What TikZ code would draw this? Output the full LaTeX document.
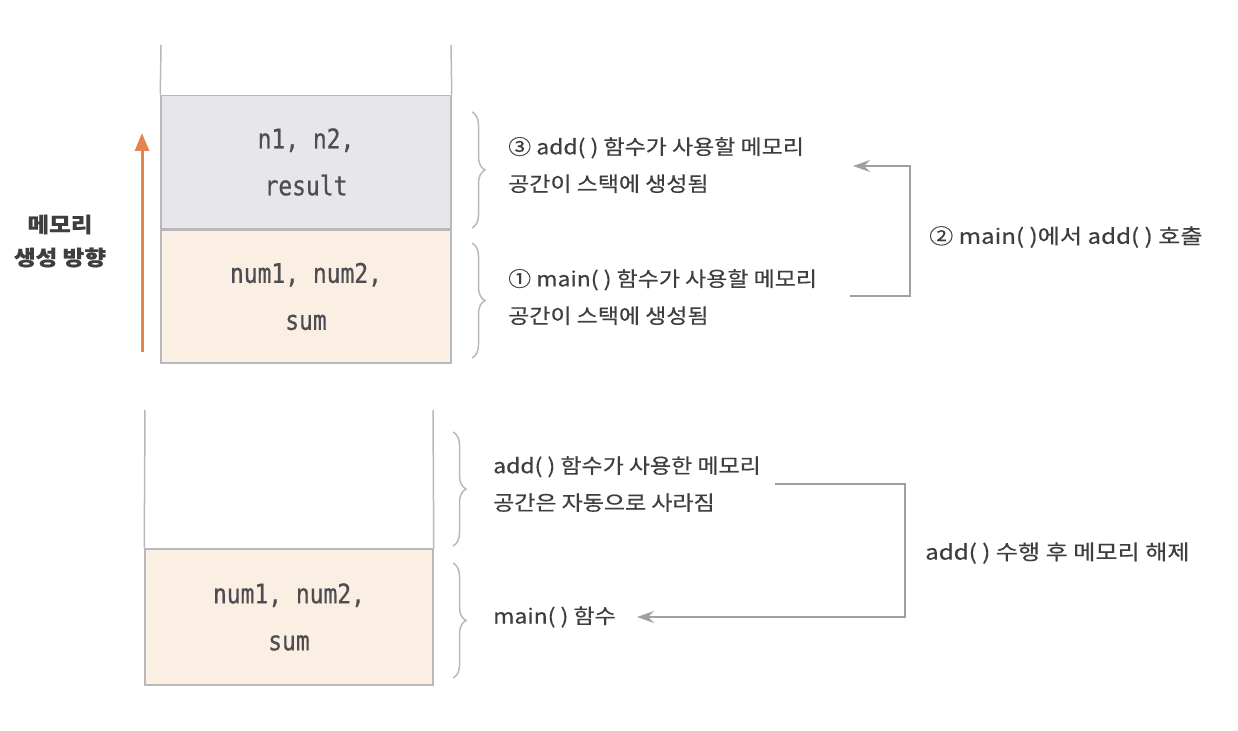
\documentclass[tikz,border=0pt]{standalone}
\usepackage{fontspec}
\setmainfont{Noto Sans CJK KR}[FakeStretch=1.12, FakeBold=0.5]
\newfontfamily\widefont{Noto Sans CJK KR}[FakeStretch=1.16, FakeBold=0.5]
\newfontfamily\codefont[FakeStretch=0.85, FakeBold=0.6]{DejaVu Sans Mono}
\usetikzlibrary{decorations.pathreplacing,arrows.meta}
\definecolor{linegray}{RGB}{185,185,188}
\definecolor{boxgray}{RGB}{231,231,235}
\definecolor{boxpeach}{RGB}{251,238,226}
\definecolor{txtgray}{RGB}{62,62,62}
\definecolor{codegray}{RGB}{78,78,82}
\definecolor{arroworange}{RGB}{228,132,78}
\definecolor{conngray}{RGB}{160,160,163}
\begin{document}
\begin{tikzpicture}[x=1pt,y=-1pt,
  stackbox/.style={draw=linegray, line width=1.5pt, inner sep=0pt, align=center,
    font=\codefont\fontsize{27}{47}\selectfont, text=codegray},
  topbox/.style={stackbox, minimum width=290pt, minimum height=133pt},
  botbox/.style={stackbox, minimum width=288pt, minimum height=136pt},
  wall/.style={draw=linegray, line width=1.5pt},
  bracestyle/.style={draw=linegray, line width=1.5pt, decorate,
    decoration={brace, amplitude=13pt, aspect=0.5}},
  desc/.style={anchor=west, align=left, inner sep=0pt, text=txtgray,
    font=\fontsize{20.5}{37}\selectfont},
  sidelabel/.style={anchor=west, inner sep=0pt, text=txtgray,
    font=\widefont\fontsize{20.8}{30}\selectfont},
  conn/.style={draw=conngray, line width=1.8pt,
    -{Stealth[length=17pt,width=12pt,inset=6pt]}}
]
\useasboundingbox (0,0) rectangle (1238,730);

% ---- top stack ----
\node[topbox, fill=boxpeach] (mainA) at (306,296.5) {num1, num2,\\sum};
\node[topbox, fill=boxgray, anchor=south] (addA) at (mainA.north) {n1, n2,\\result};
\coordinate (topL) at (161,45);
\coordinate (topR) at (451,45);
\draw[wall] (addA.north west) -- (topL);
\draw[wall] (addA.north east) -- (topR);

% orange direction arrow
\coordinate (dirS) at (142,352);
\coordinate (dirE) at (142,133);
\draw[draw=arroworange, line width=3pt,
  -{Triangle[length=18pt,width=14pt]}] (dirS) -- (dirE);
\node[text=txtgray, font=\bfseries\fontsize{21}{33}\selectfont, align=center]
  (dirlabel) at (60,241) {메모리\\생성 방향};

% braces top
\coordinate (b1s) at (472,112);
\coordinate (b1e) at (472,228);
\coordinate (b2s) at (472,243);
\coordinate (b2e) at (472,358);
\draw[bracestyle] (b1s) -- (b1e);
\draw[bracestyle] (b2s) -- (b2e);

\node[desc] (t3) at (508,165) {③ add( ) 함수가 사용할 메모리\\공간이 스택에 생성됨};
\node[desc] (t1) at (508,297) {① main( ) 함수가 사용할 메모리\\공간이 스택에 생성됨};

\coordinate (callS) at (850,296);
\coordinate (callE) at (853,166);
\draw[conn] (callS) -- (910,296) -- (910,166) -- (callE);
\node[sidelabel] (t2) at (929,237) {② main( )에서 add( ) 호출};

% ---- bottom stack ----
\node[botbox, fill=boxpeach] (mainB) at (289,617) {num1, num2,\\sum};
\coordinate (botL) at (145,410);
\coordinate (botR) at (433,410);
\draw[wall] (mainB.north west) -- (botL);
\draw[wall] (mainB.north east) -- (botR);

\coordinate (b3s) at (453,432);
\coordinate (b3e) at (453,546);
\coordinate (b4s) at (453,563);
\coordinate (b4e) at (453,678);
\draw[bracestyle] (b3s) -- (b3e);
\draw[bracestyle] (b4s) -- (b4e);

\node[desc] (t4) at (493,484) {add( ) 함수가 사용한 메모리\\공간은 자동으로 사라짐};
\node[desc] (t5) at (493,617) {main( ) 함수};

\coordinate (relS) at (775,484);
\coordinate (relE) at (637,617);
\draw[conn] (relS) -- (905,484) -- (905,617) -- (relE);
\node[sidelabel] (t6) at (925,553) {add( ) 수행 후 메모리 해제};
\end{tikzpicture}
\end{document}
